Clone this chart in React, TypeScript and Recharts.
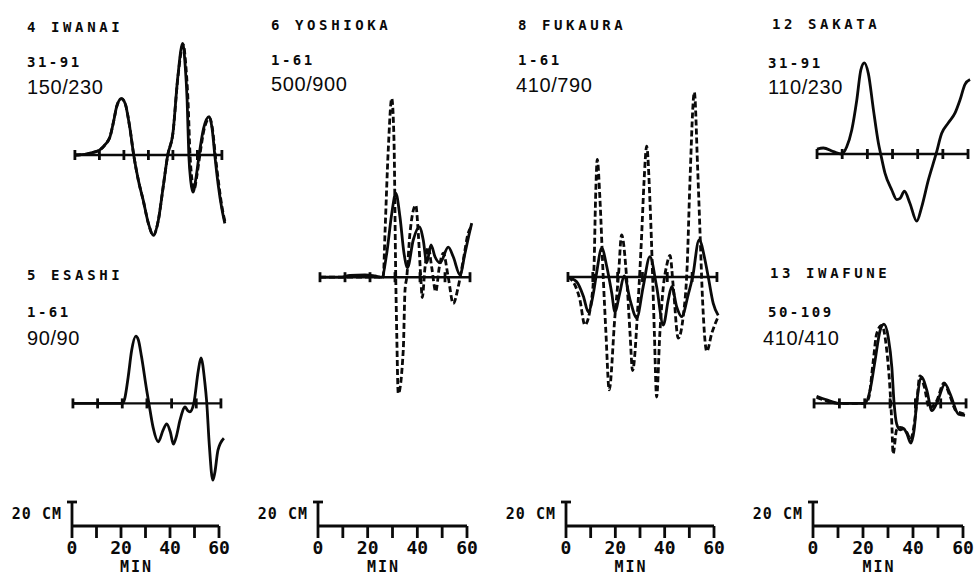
import React from "react";
import { ComposedChart, Line, Scatter, XAxis, YAxis } from "recharts";

// Tide-gauge records, 0-60 min, heights in cm. [minute, cm] pairs.
// OBS = observed (solid), CALC = computed (dashed).
type Pt = [number, number];

const MIN_TICKS = [0, 10, 20, 30, 40, 50, 60];
const SCALE_CM = 20;

const IWANAI_OBS: Pt[] = [
  [0, 0], [4, 0.5], [7, 2], [10, 4], [12.5, 9], [14.3, 15], [16, 30], [17, 40], [19, 47],
  [20.5, 43], [22.4, 23], [24, 0], [26, -22], [27.8, -37], [30, -57], [32, -67], [34, -55],
  [36, -27], [37.9, 0], [40, 18], [42, 65], [44, 93], [45, 75], [45.8, 46], [46.5, 0],
  [47.3, -22], [48.2, -31], [49.5, -18], [50.7, 0], [52.5, 22], [54.8, 32], [56, 22],
  [57.1, 0], [58.5, -25], [60, -45], [61.2, -57],
];
const IWANAI_CALC: Pt[] = [
  [0, 0], [4, 0.5], [7, 2], [10, 4], [12.5, 9], [14.3, 15], [16, 30], [17, 40], [19, 47],
  [20.5, 43], [22.4, 23], [24, 0], [26, -22], [27.8, -37], [30, -57], [32, -67], [34, -55],
  [36, -27], [37.9, 0], [40, 18], [42, 64], [44.2, 92], [45.3, 74], [46.2, 44], [47, 0],
  [47.8, -21], [48.6, -29], [49.8, -17], [51, 0], [52.7, 21], [55, 31], [56.2, 21],
  [57.3, 0], [58.7, -24], [60, -43], [61.2, -55],
];

const ESASHI_OBS: Pt[] = [
  [0, 0], [10, 0], [20, 0], [21, 4], [22.4, 22], [23.8, 44], [25.5, 56], [26.5, 53],
  [27.8, 39], [29.9, 11], [30.8, 0], [32.5, -20], [34.6, -32], [36.6, -22], [38, -17],
  [39.5, -24], [40.7, -34], [42, -27], [43.4, -14], [45.5, -3], [46.5, -6], [47.4, -7],
  [49, 0], [50.8, 27], [51.9, 38], [53.5, 17], [54.2, 2], [55.3, -35], [56.7, -64],
  [57.5, -58], [58.8, -39], [61.2, -29],
];

const YOSHIOKA_OBS: Pt[] = [
  [0, 0], [8, 0], [12, 1.5], [18, 2], [22, 1], [24.7, 0], [26.7, 20], [28.7, 53], [30.3, 70],
  [32, 50], [33.6, 20], [35, 8], [37.3, 31], [39.7, 42], [41.3, 31], [42.7, 12], [44.4, 27],
  [46, 17], [48, 12], [51.3, 25], [53.3, 17], [56, 2], [58, 20], [60, 39], [60.7, 45],
];
const YOSHIOKA_CALC: Pt[] = [
  [0, 0], [10, 0], [20, 0], [25.3, 0], [26, 37], [27.3, 106], [28.7, 149], [29.6, 114],
  [30.3, 0], [30.7, -47], [31.3, -97], [33.3, -61], [34, -11], [34.7, 0], [36, 37],
  [38.3, 60], [39.3, 37], [40.3, 0], [40.9, -17], [42, 8], [43.3, 25], [44.7, 8],
  [46.3, -12], [47.7, 8], [49.3, 20], [51.3, 0], [53.3, -22], [55.3, -8], [57.3, 14],
  [59.3, 37], [60.7, 42],
];

const FUKAURA_OBS: Pt[] = [
  [0, 0], [3.5, -4], [6.2, -16], [8.2, -29], [10.2, -14], [11.5, 3], [13.6, 24], [15.6, 9],
  [17.6, -13], [18.9, -29], [20.9, -13], [22.6, 1], [25, -19], [27.7, -34], [30.3, -8],
  [33, 17], [35.7, -8], [38.4, -40], [40.4, -19], [41.8, -8], [43.8, -25], [45.8, -33],
  [48.5, -14], [50.2, 0], [52.8, 31], [55.2, 14], [56.5, 0], [58.5, -22], [60.5, -32],
];
const FUKAURA_CALC: Pt[] = [
  [0, 0], [0.8, -1], [4.8, -19], [6.8, -40], [9.5, -19], [10.5, 9], [11.1, 64], [11.8, 98],
  [12.9, 64], [14.2, 0], [15.3, -47], [16.6, -94], [18.9, -33], [20.3, 0], [21.6, 35],
  [23.6, 0], [25, -47], [26, -78], [28.3, -19], [29.7, 36], [30.6, 78], [31.7, 109],
  [33, 64], [34.1, 0], [34.8, -47], [35.7, -100], [37, -47], [38.4, -8], [39.7, 9],
  [41.1, 18], [42.4, -8], [44.4, -51], [46.4, -33], [48, 9], [49.1, 78], [50.9, 154],
  [52.2, 92], [53.2, 36], [54.2, -19], [55.9, -62], [57.9, -47], [60.5, -33],
];

const SAKATA_OBS: Pt[] = [
  [0, 4], [2.5, 5], [6.5, 2], [9.8, 0], [11.8, 6], [13.8, 20], [15.8, 45], [17.4, 70],
  [18.8, 76], [20.4, 67], [22.4, 37], [24.4, 9], [25.3, 0], [27, -16], [29.7, -30],
  [31.7, -38], [33, -37], [34.7, -31], [36.9, -41], [39.6, -56], [41.6, -44], [44.2, -22],
  [47.3, 0], [49.5, 17], [52.2, 26], [54.8, 34], [56.8, 45], [58.8, 58], [60.8, 62],
];

const IWAFUNE_OBS: Pt[] = [
  [1, 6], [5, 3], [10.3, 0], [20.1, 0], [22.1, 11], [24.1, 36], [26.1, 61], [27.6, 66],
  [29.3, 55], [30.7, 30], [31.6, 0], [32.6, -17], [34, -22], [35.3, -21], [36.6, -25],
  [38.2, -33], [39.5, -22], [40.5, 0], [42.5, 22], [44.5, 11], [46.5, -6], [48.4, 0],
  [51.7, 16], [53.7, 8], [57, -9], [59.6, -10],
];
const IWAFUNE_CALC: Pt[] = [
  [1, 5], [5, 2], [10, 0], [20, 0], [21.5, 4], [23.4, 36], [24.7, 58], [26.7, 65],
  [28.7, 44], [30, 11], [30.7, -17], [31.2, -42], [32.6, -22], [34, -20], [36.6, -24],
  [38, -30], [39.5, -18], [40.5, 0], [41.8, 23], [43.5, 14], [45.5, -4], [47, -2],
  [48.4, 2], [51.3, 17], [53.5, 7], [56, -6], [59.6, -9],
];

const MONO = "'DejaVu Sans Mono', monospace";
const SANS = "'Liberation Sans', Arial, sans-serif";
const INK = "#0a0a0a";
const CM_PX = 1.2; // 20 cm = 24 px on the scale bar
const X_LO = -2;
const X_HI = 63;
const STROKE = 2.8;

const toRows = (pts: Pt[]) => pts.map(([t, v]) => ({ t, v }));
const axisRows = [{ t: MIN_TICKS[0], v: 0 }, { t: MIN_TICKS[MIN_TICKS.length - 1], v: 0 }];
const tickRows = MIN_TICKS.map((t) => ({ t, v: 0 }));

interface Panel {
  title: string;
  span: string;
  ratio: string;
  obs: Pt[];
  calc?: Pt[];
  x0: number;
  x60: number;
  y0: number;
  yLo: number;
  yHi: number;
  titleX: number;
  spanX: number;
  ratioX: number;
  titleY: number;
  spanY: number;
  ratioY: number;
}

const PANELS: Panel[] = [
  { title: "4 IWANAI", span: "31-91", ratio: "150/230", obs: IWANAI_OBS, calc: IWANAI_CALC,
    x0: 75, x60: 222, y0: 155, yLo: -75, yHi: 100,
    titleX: 27, spanX: 27, ratioX: 27, titleY: 27, spanY: 62, ratioY: 87 },
  { title: "5 ESASHI", span: "1-61", ratio: "90/90", obs: ESASHI_OBS,
    x0: 73, x60: 221, y0: 403, yLo: -72, yHi: 62,
    titleX: 27, spanX: 27, ratioX: 27, titleY: 275, spanY: 312, ratioY: 338 },
  { title: "6 YOSHIOKA", span: "1-61", ratio: "500/900", obs: YOSHIOKA_OBS, calc: YOSHIOKA_CALC,
    x0: 320, x60: 470, y0: 277, yLo: -105, yHi: 156,
    titleX: 271, spanX: 271, ratioX: 271, titleY: 25, spanY: 60, ratioY: 84 },
  { title: "8 FUKAURA", span: "1-61", ratio: "410/790", obs: FUKAURA_OBS, calc: FUKAURA_CALC,
    x0: 568, x60: 717, y0: 277, yLo: -106, yHi: 160,
    titleX: 518, spanX: 518, ratioX: 516, titleY: 25, spanY: 60, ratioY: 85 },
  { title: "12 SAKATA", span: "31-91", ratio: "110/230", obs: SAKATA_OBS,
    x0: 817, x60: 968, y0: 154, yLo: -62, yHi: 80,
    titleX: 772, spanX: 768, ratioX: 768, titleY: 24, spanY: 63, ratioY: 87 },
  { title: "13 IWAFUNE", span: "50-109", ratio: "410/410", obs: IWAFUNE_OBS, calc: IWAFUNE_CALC,
    x0: 814, x60: 966, y0: 403, yLo: -48, yHi: 72,
    titleX: 770, spanX: 768, ratioX: 763, titleY: 273, spanY: 312, ratioY: 338 },
];

// scale bars under each column: x of the 0-minute bar and of the 60-minute tick
const SCALES = [
  { x0: 72, x60: 219 },
  { x0: 318, x60: 467 },
  { x0: 566, x60: 714 },
  { x0: 813, x60: 963 },
];

const TickMark = (props: any) => {
  const { cx, cy } = props;
  if (cx == null || cy == null) return null;
  return <line x1={cx} x2={cx} y1={cy - 5} y2={cy + 5} stroke={INK} strokeWidth={STROKE} />;
};

const CapMark = (props: any) => {
  const { cx, cy } = props;
  if (cx == null || cy == null) return null;
  return <line x1={cx - 5} x2={cx + 5} y1={cy} y2={cy} stroke={INK} strokeWidth={STROKE} />;
};

function Label({ x, y, text, size, font, spacing, bold }: {
  x: number; y: number; text: string; size: number; font: string; spacing: number; bold?: boolean;
}) {
  return (
    <div
      style={{
        position: "absolute",
        left: x,
        top: y - size / 2,
        fontFamily: font,
        fontSize: size,
        lineHeight: 1,
        fontWeight: bold ? 700 : 400,
        letterSpacing: spacing,
        whiteSpace: "pre",
        color: INK,
      }}
    >
      {text}
    </div>
  );
}

function Wave({ p }: { p: Panel }) {
  const k = (p.x60 - p.x0) / 60;
  const left = p.x0 + X_LO * k;
  const width = (X_HI - X_LO) * k;
  const top = p.y0 - p.yHi * CM_PX;
  const height = (p.yHi - p.yLo) * CM_PX;
  return (
    <div style={{ position: "absolute", left, top }}>
      <ComposedChart
        width={width}
        height={height}
        margin={{ top: 0, right: 0, bottom: 0, left: 0 }}
        style={{ overflow: "visible" }}
      >
        <XAxis type="number" dataKey="t" domain={[X_LO, X_HI]} hide />
        <YAxis type="number" domain={[p.yLo, p.yHi]} hide />
        <Line data={axisRows} dataKey="v" stroke={INK} strokeWidth={2.4} dot={false}
          isAnimationActive={false} />
        <Scatter data={tickRows} dataKey="v" shape={TickMark} isAnimationActive={false} />
        {p.calc && (
          <Line data={toRows(p.calc)} dataKey="v" type="monotone" stroke={INK} strokeWidth={STROKE}
            strokeDasharray="6 3" dot={false} isAnimationActive={false} />
        )}
        <Line data={toRows(p.obs)} dataKey="v" type="monotone" stroke={INK} strokeWidth={STROKE}
          dot={false} isAnimationActive={false} />
      </ComposedChart>
    </div>
  );
}

function ScaleBar({ x0, x60 }: { x0: number; x60: number }) {
  const plotW = x60 - x0;
  return (
    <div style={{ position: "absolute", left: x0 - 66, top: 498 }}>
      <ComposedChart
        width={66 + plotW + 14}
        height={78}
        margin={{ top: 4, right: 14, bottom: 0, left: 60 }}
        style={{ overflow: "visible" }}
      >
        <XAxis
          type="number"
          dataKey="t"
          domain={[MIN_TICKS[0], MIN_TICKS[MIN_TICKS.length - 1]]}
          ticks={MIN_TICKS}
          interval={0}
          tickFormatter={(v: number) => (v % 20 === 0 ? String(v) : "")}
          tickSize={12}
          tickMargin={3}
          height={50}
          axisLine={{ stroke: INK, strokeWidth: STROKE }}
          tickLine={{ stroke: INK, strokeWidth: STROKE }}
          tick={{ fill: INK, fontSize: 18, fontWeight: 700, fontFamily: MONO }}
          label={{
            value: "MIN", position: "insideBottom", offset: 4, dx: -9,
            fill: INK, fontSize: 15, fontWeight: 700, fontFamily: MONO, letterSpacing: 2,
          }}
        />
        <YAxis
          type="number"
          domain={[0, SCALE_CM]}
          ticks={[SCALE_CM]}
          width={6}
          tick={false}
          tickLine={false}
          axisLine={{ stroke: INK, strokeWidth: STROKE }}
          label={{
            value: `${SCALE_CM} CM`, position: "left", offset: 4,
            fill: INK, fontSize: 15, fontWeight: 700, fontFamily: MONO, letterSpacing: 1,
          }}
        />
        <Scatter data={[{ t: 0, v: SCALE_CM }]} dataKey="v" shape={CapMark}
          isAnimationActive={false} />
      </ComposedChart>
    </div>
  );
}

export default function App() {
  return (
    <div
      style={{
        position: "absolute",
        left: 0,
        top: 0,
        width: 974,
        height: 577,
        background: "#fff",
        overflow: "hidden",
      }}
    >
      {PANELS.map((p) => (
        <React.Fragment key={p.title}>
          <Label x={p.titleX} y={p.titleY} text={p.title} size={14} font={MONO} spacing={3.6} bold />
          <Label x={p.spanX} y={p.spanY} text={p.span} size={14} font={MONO} spacing={2.5} bold />
          <Label x={p.ratioX} y={p.ratioY} text={p.ratio} size={20} font={SANS} spacing={0.6} />
          <Wave p={p} />
        </React.Fragment>
      ))}
      {SCALES.map((s) => (
        <ScaleBar key={s.x0} x0={s.x0} x60={s.x60} />
      ))}
    </div>
  );
}
